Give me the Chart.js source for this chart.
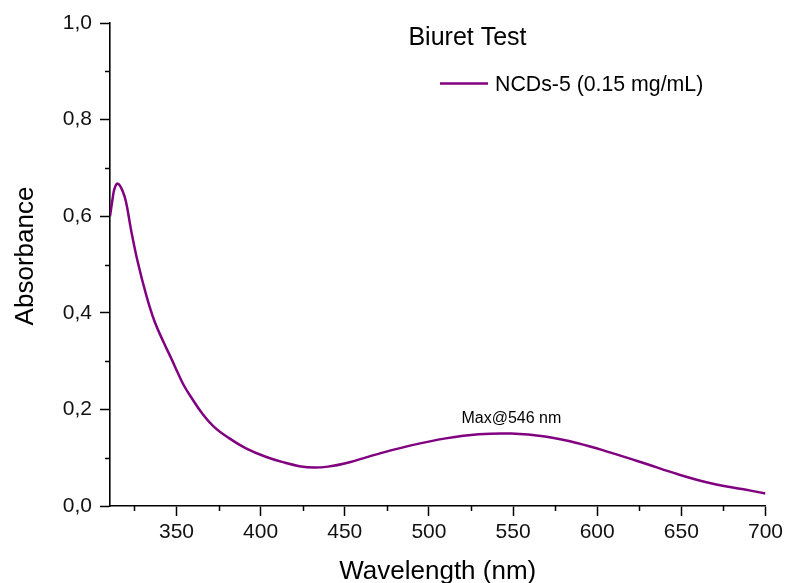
<!DOCTYPE html>
<html>
<head>
<meta charset="utf-8">
<script src="https://cdn.jsdelivr.net/npm/chart.js@4"></script>
<style>
    html, body { margin: 0; padding: 0; background: #fff; overflow: hidden; }
    #wrap { width: 787px; height: 583px; position: relative; }
</style>
</head>
<body>
<div id="wrap"><canvas id="spectrum"></canvas></div>
<script>
// wavelength (nm) and absorbance
const wavelength = [310.5, 312, 313, 314.5, 316, 318, 320, 323, 327, 332, 337, 342.5, 347.5, 350.5, 354.5, 359.5, 365, 372, 381, 391, 403, 414.5, 423, 432, 440, 450.5, 470, 490, 510, 529.5, 549, 569, 588.5, 608, 628, 648, 667.5, 687, 700];
const absorbance = [0.600, 0.635, 0.655, 0.667, 0.665, 0.652, 0.630, 0.572, 0.505, 0.437, 0.382, 0.338, 0.301, 0.278, 0.249, 0.221, 0.193, 0.165, 0.141, 0.120, 0.102, 0.0895, 0.0825, 0.0795, 0.0815, 0.0885, 0.108, 0.126, 0.140, 0.1485, 0.150, 0.1437, 0.130, 0.1105, 0.0885, 0.0657, 0.047, 0.0345, 0.026];

const xMajorTicks = [350, 400, 450, 500, 550, 600, 650, 700];
const xMinorTicks = [325, 375, 425, 475, 525, 575, 625, 675];
const yMajorTicks = [0, 0.2, 0.4, 0.6, 0.8, 1.0];
const yMinorTicks = [0.1, 0.3, 0.5, 0.7, 0.9];

const chartTitle = 'Biuret Test';
const seriesLabel = 'NCDs-5 (0.15 mg/mL)';
const yTitle = 'Absorbance';
const peakNote = { text: 'Max@546 nm', x: 549, y: 0.171 };

const FONT = "'Liberation Sans', Arial, sans-serif";
const LINE_COLOR = '#800080';

const extras = {
    id: 'extras',
    afterDraw(chart) {
        const ctx = chart.ctx;
        const xs = chart.scales.x;
        const ys = chart.scales.y;
        ctx.save();

        // minor ticks
        ctx.strokeStyle = '#000';
        ctx.lineWidth = 1.5;
        ctx.beginPath();
        xMinorTicks.forEach(v => {
            const px = Math.round(xs.getPixelForValue(v)) + 0.5;
            ctx.moveTo(px, xs.top);
            ctx.lineTo(px, xs.top + 5);
        });
        yMinorTicks.forEach(v => {
            const py = Math.round(ys.getPixelForValue(v)) + 0.5;
            ctx.moveTo(ys.right, py);
            ctx.lineTo(ys.right - 5, py);
        });
        ctx.stroke();

        // y axis title (sits a little above the axis centre in the original)
        ctx.fillStyle = '#000';
        ctx.save();
        ctx.translate(33, 256);
        ctx.rotate(-Math.PI / 2);
        ctx.textAlign = 'center';
        ctx.textBaseline = 'alphabetic';
        ctx.font = '26px ' + FONT;
        ctx.fillText(yTitle, 0, 0);
        ctx.restore();

        // title
        ctx.textAlign = 'center';
        ctx.textBaseline = 'alphabetic';
        ctx.font = '25px ' + FONT;
        ctx.fillText(chartTitle, 467.5, 44.5);

        // legend
        ctx.strokeStyle = LINE_COLOR;
        ctx.lineWidth = 2.5;
        ctx.beginPath();
        ctx.moveTo(440, 83.5);
        ctx.lineTo(488, 83.5);
        ctx.stroke();
        ctx.textAlign = 'left';
        ctx.font = '21.3px ' + FONT;
        ctx.fillText(seriesLabel, 495, 91);

        // peak note
        ctx.textAlign = 'center';
        ctx.font = '16px ' + FONT;
        ctx.fillText(peakNote.text, xs.getPixelForValue(peakNote.x), ys.getPixelForValue(peakNote.y));

        ctx.restore();
    }
};

const ctx = document.getElementById('spectrum').getContext('2d');
new Chart(ctx, {
    type: 'line',
    data: {
        datasets: [{
            label: seriesLabel,
            data: wavelength.map((w, i) => ({ x: w, y: absorbance[i] })),
            borderColor: LINE_COLOR,
            borderWidth: 2.5,
            pointRadius: 0,
            tension: 0.4,
            fill: false
        }]
    },
    options: {
        responsive: true,
        maintainAspectRatio: false,
        animation: false,
        layout: { padding: { top: 23, right: 19, left: 0, bottom: 0 } },
        plugins: {
            legend: { display: false },
            title: { display: false },
            tooltip: { enabled: false }
        },
        scales: {
            x: {
                type: 'linear',
                min: 310.5,
                max: 700,
                afterBuildTicks: s => { s.ticks = xMajorTicks.map(v => ({ value: v })); },
                afterFit: s => { s.height = 77; },
                ticks: {
                    color: '#111',
                    font: { family: FONT, size: 21 },
                    padding: 4,
                    maxRotation: 0,
                    callback: v => String(v)
                },
                grid: {
                    display: true,
                    drawOnChartArea: false,
                    drawTicks: true,
                    tickLength: 10,
                    tickWidth: 1.5,
                    tickColor: '#000'
                },
                border: { display: true, color: '#000', width: 1.6 },
                title: {
                    display: true,
                    text: 'Wavelength (nm)',
                    color: '#000',
                    font: { family: FONT, size: 26, lineHeight: 1 },
                    padding: { top: 0, bottom: -2 }
                }
            },
            y: {
                min: 0,
                max: 1.0,
                afterBuildTicks: s => { s.ticks = yMajorTicks.map(v => ({ value: v })); },
                afterFit: s => { s.width = 110; },
                ticks: {
                    color: '#111',
                    font: { family: FONT, size: 21 },
                    padding: 8,
                    callback: v => v.toFixed(1).replace('.', ',')
                },
                grid: {
                    display: true,
                    drawOnChartArea: false,
                    drawTicks: true,
                    tickLength: 10,
                    tickWidth: 1.5,
                    tickColor: '#000'
                },
                border: { display: true, color: '#000', width: 1.6 },
                title: { display: false }
            }
        }
    },
    plugins: [extras]
});
</script>
</body>
</html>
